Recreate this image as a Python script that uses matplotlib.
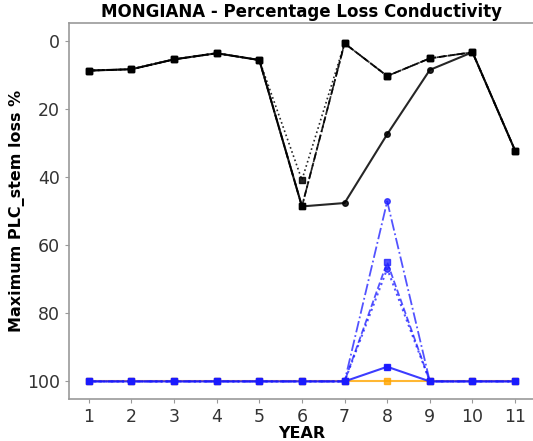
import matplotlib
matplotlib.use("Agg")
import matplotlib.pyplot as plt

years = [1, 2, 3, 4, 5, 6, 7, 8, 9, 10, 11]

# Black scenarios
black_solid = [8.7, 8.3, 5.4, 3.6, 5.6, 48.6, 47.6, 27.4, 8.5, 3.3, 32.2]
black_dashed = [8.7, 8.3, 5.4, 3.6, 5.6, 48.6, 0.7, 10.3, 5.1, 3.3, 32.2]
black_dashdot = [8.7, 8.3, 5.4, 3.6, 5.6, 48.6, 0.7, 10.3, 5.1, 3.3, 32.2]
black_dotted = [8.7, 8.3, 5.4, 3.6, 5.6, 40.8, 0.7, 10.3, 5.1, 3.3, 32.2]

# Blue scenarios
blue_solid = [100, 100, 100, 100, 100, 100, 100, 95.7, 100, 100, 100]
blue_dashed = [100, 100, 100, 100, 100, 100, 100, 65.0, 100, 100, 100]
blue_dotted = [100, 100, 100, 100, 100, 100, 100, 66.9, 100, 100, 100]
blue_dashdot = [100, 100, 100, 100, 100, 100, 100, 47.1, 100, 100, 100]

# Orange scenario
orange_solid = [100, 100, 100, 100, 100, 100, 100, 100, 100, 100, 100]

fig = plt.figure(figsize=(5.33, 4.41), dpi=100)
ax = fig.add_axes([0.129, 0.095, 0.875, 0.853])

ax.plot(years, orange_solid, color="orange", ls="-", lw=1.5, marker="s", ms=5, alpha=0.8)

blue = "#1a1aff"
ax.plot(years, blue_dashdot, color=blue, ls="-.", lw=1.3, marker="o", ms=4, alpha=0.75)
ax.plot(years, blue_dotted, color=blue, ls=":", lw=1.5, marker="o", ms=4, alpha=0.75)
ax.plot(years, blue_dashed, color=blue, ls="--", lw=1.3, marker="s", ms=5, alpha=0.75)
ax.plot(years, blue_solid, color=blue, ls="-", lw=1.5, marker="o", ms=4, alpha=0.85)
ax.plot(years, blue_solid, color=blue, ls="none", marker="s", ms=5, alpha=0.9)

ax.plot(years, black_dotted, color="black", ls=":", lw=1.2, marker="s", ms=5, alpha=0.85)
ax.plot(years, black_dashdot, color="black", ls="-.", lw=1.2, marker="s", ms=4, alpha=0.85)
ax.plot(years, black_dashed, color="black", ls="--", lw=1.3, marker="s", ms=5, alpha=0.85)
ax.plot(years, black_solid, color="black", ls="-", lw=1.5, marker="o", ms=4, alpha=0.85)

ax.set_xlim(0.53, 11.47)
ax.set_ylim(105.2, -5.3)
ax.set_xticks(years)
ax.set_yticks([0, 20, 40, 60, 80, 100])

for s in ax.spines.values():
    s.set_color("#999999")
    s.set_linewidth(1.2)
ax.tick_params(axis="both", labelsize=12.5, colors="#333333", length=3, width=0.8)
ax.tick_params(axis="both", color="#999999")

ax.set_title("MONGIANA - Percentage Loss Conductivity", fontsize=12, fontweight="bold", pad=4)
ax.set_xlabel("YEAR", fontsize=11.5, fontweight="bold", labelpad=0)
ax.set_ylabel("Maximum PLC_stem loss %", fontsize=11.5, fontweight="bold", labelpad=1)

fig.savefig("out.png", dpi=100)
